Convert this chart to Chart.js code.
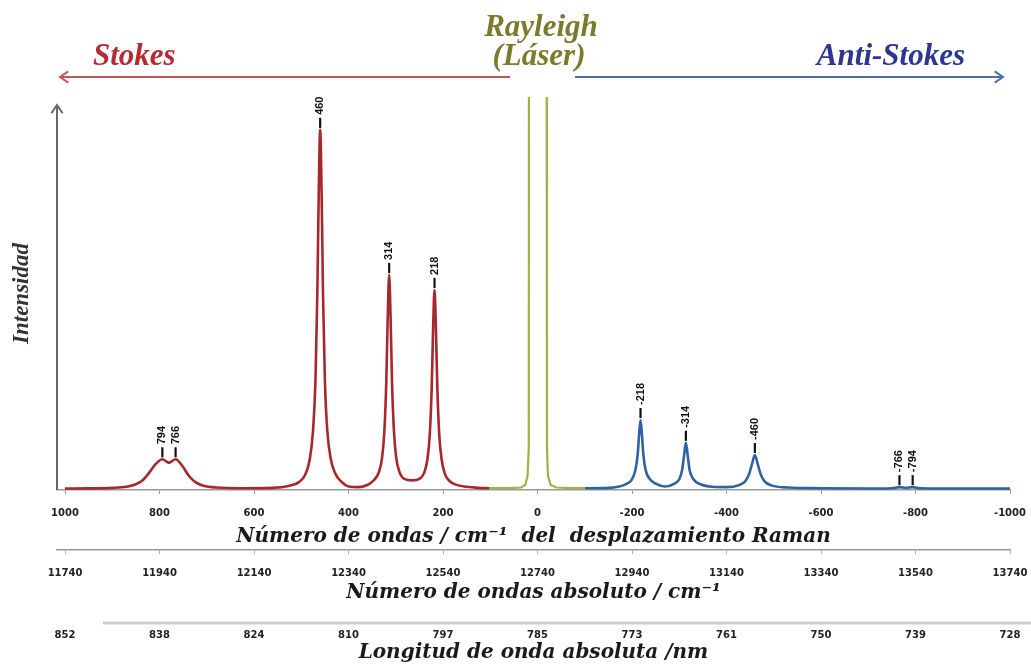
<!DOCTYPE html>
<html>
<head>
<meta charset="utf-8">
<script src="https://cdn.jsdelivr.net/npm/chart.js@4.4.1/dist/chart.umd.min.js"></script>
<style>
  html, body { margin: 0; padding: 0; background: #fff; }
  #wrap { width: 1031px; height: 665px; position: relative; }
</style>
</head>
<body>
<div id="wrap"><canvas id="c"></canvas></div>
<script>
// Raman shift (cm-1) and relative intensity of the Stokes branch
const stokesShift = [1000, 950, 900, 870, 850, 835, 822, 808, 794, 780, 766, 752, 738, 724, 705, 680, 620, 560,
  525, 505, 492, 482, 475, 470, 466, 463, 460, 457, 454, 450, 445, 438, 428, 415, 400, 380, 360,
  346, 336, 329, 324, 320, 317, 314, 311, 308, 304, 299, 292, 282, 265, 250,
  240, 233, 228, 224, 221, 218, 215, 212, 208, 203, 196, 186, 173, 150, 125, 102];
const stokesInt = [0.4, 0.45, 0.6, 0.9, 1.6, 2.8, 4.8, 7.3, 8.6, 7.6, 8.6, 6.8, 4.0, 2.2, 1.1, 0.7, 0.5, 0.6,
  1.2, 2.2, 4.2, 8.6, 16.8, 30.5, 55, 83.5, 100.8, 83.5, 55, 30.5, 16.8, 9.0, 4.6, 2.3, 1.0, 0.8, 1.4,
  2.8, 4.9, 9.0, 16.8, 30.5, 48.5, 60.2, 48.5, 30.5, 16.8, 9.0, 5.0, 3.1, 2.7, 3.1,
  4.8, 8.6, 15.6, 28.4, 45, 56, 45, 28.4, 15.6, 8.6, 4.5, 2.5, 1.5, 0.9, 0.6, 0.5];

// Rayleigh (laser) line, far off scale at its centre
const laserShift = [102, 60, 35, 26, 21, 18.5, 17, 0, -18, -20, -22, -28, -40, -70, -100];
const laserInt = [0.5, 0.5, 0.7, 1.4, 4, 12, 400, 4000, 400, 12, 4, 1.4, 0.7, 0.5, 0.5];

// Anti-Stokes branch
const antiShift = [-100, -150, -185, -200, -207, -212, -215, -218, -221, -224, -229, -238, -250, -270,
  -290, -300, -306, -310, -314, -318, -322, -330, -345, -370, -400,
  -425, -440, -448, -454, -460, -466, -472, -480, -495, -530, -600, -700, -750, -766, -780, -794, -810, -900, -1000];
const antiInt = [0.5, 0.6, 1.5, 3.0, 5.5, 10, 15.5, 19.6, 15.5, 10, 5.5, 3.0, 1.8, 1.0,
  1.8, 3.0, 5.5, 9.5, 13.2, 9.5, 5.5, 3.0, 1.6, 0.9, 0.8,
  1.3, 2.5, 4.5, 7.3, 9.8, 7.3, 4.5, 2.5, 1.3, 0.7, 0.5, 0.4, 0.5, 0.8, 0.6, 0.8, 0.5, 0.4, 0.4];

// Labelled bands
const peakShift = [794, 766, 460, 314, 218, -218, -314, -460, -766, -794];
const peakInt = [8.6, 8.6, 100.8, 60.2, 56, 19.6, 13.2, 9.8, 0.8, 0.8];
const peakText = ['794', '766', '460', '314', '218', '-218', '-314', '-460', '-766', '-794'];

// Axis ticks: Raman shift, absolute wavenumber, absolute wavelength
const tickShift = [1000, 800, 600, 400, 200, 0, -200, -400, -600, -800, -1000];
const absLabels = ['11740', '11940', '12140', '12340', '12540', '12740', '12940', '13140', '13340', '13540', '13740'];
const nmLabels = ['852', '838', '824', '810', '797', '785', '773', '761', '750', '739', '728'];

const toPoints = (xs, ys) => xs.map((v, i) => ({ x: v, y: ys[i] }));

const tickFont = { family: 'DejaVu Sans', size: 10, weight: 'bold' };
const titleFont = { family: 'DejaVu Serif', size: 20, weight: 'bold', style: 'italic' };
const setTicks = scale => { scale.ticks = tickShift.map(v => ({ value: v })); };
// keep the plot edges fixed: no extra room for the outer tick labels
const fitX = h => s => { s.height = h; s.paddingLeft = 0; s.paddingRight = 0; };

function arrowHead(ctx, x, y, dir, size) {
  // open chevron; dir is the pointing direction in radians
  ctx.beginPath();
  ctx.moveTo(x - size * Math.cos(dir - 0.6), y - size * Math.sin(dir - 0.6));
  ctx.lineTo(x, y);
  ctx.lineTo(x - size * Math.cos(dir + 0.6), y - size * Math.sin(dir + 0.6));
  ctx.stroke();
}

const decor = {
  id: 'decor',
  afterDraw(chart) {
    const { ctx, chartArea, scales } = chart;
    const xs = scales.x, ys = scales.y;
    ctx.save();

    // intensity arrow
    ctx.strokeStyle = '#666';
    ctx.lineWidth = 2;
    ctx.beginPath();
    ctx.moveTo(chartArea.left, chartArea.bottom);
    ctx.lineTo(chartArea.left, 105);
    ctx.stroke();
    arrowHead(ctx, chartArea.left, 105, -Math.PI / 2, 10);

    // branch arrows
    ctx.lineWidth = 2;
    ctx.strokeStyle = '#c4565a';
    ctx.beginPath(); ctx.moveTo(510, 77); ctx.lineTo(60, 77); ctx.stroke();
    arrowHead(ctx, 60, 77, Math.PI, 10);
    ctx.strokeStyle = '#4c6ea6';
    ctx.beginPath(); ctx.moveTo(575, 77); ctx.lineTo(1003, 77); ctx.stroke();
    arrowHead(ctx, 1003, 77, 0, 10);

    // branch names
    ctx.font = 'italic bold 31px "Liberation Serif"';
    ctx.textBaseline = 'alphabetic';
    ctx.textAlign = 'left';
    ctx.fillStyle = '#b52a33';
    ctx.fillText('Stokes', 93, 65);
    ctx.fillStyle = '#2c3690';
    ctx.textAlign = 'right';
    ctx.fillText('Anti-Stokes', 965, 65);
    ctx.fillStyle = '#7a7b2c';
    ctx.textAlign = 'center';
    ctx.fillText('Rayleigh', 541, 36);
    ctx.fillText('(Láser)', 539, 65);

    // separator of the wavelength axis
    const nm = scales.xNm;
    ctx.strokeStyle = '#cfcfcf';
    ctx.lineWidth = 3;
    ctx.beginPath(); ctx.moveTo(103, nm.top); ctx.lineTo(chart.width, nm.top); ctx.stroke();

    // band labels
    ctx.fillStyle = '#111';
    ctx.strokeStyle = '#111';
    ctx.font = 'bold 11px "Liberation Sans"';
    ctx.textAlign = 'left';
    ctx.textBaseline = 'middle';
    peakShift.forEach((v, i) => {
      const px = xs.getPixelForValue(v);
      const py = ys.getPixelForValue(peakInt[i]);
      ctx.lineWidth = 2.2;
      ctx.beginPath(); ctx.moveTo(px, py - 2); ctx.lineTo(px, py - 12); ctx.stroke();
      ctx.save();
      ctx.translate(px, py - 15);
      ctx.rotate(-Math.PI / 2);
      ctx.fillText(peakText[i], 0, 0);
      ctx.restore();
    });
    ctx.restore();
  }
};

const lineStyle = (color, width) => ({
  borderColor: color, borderWidth: width, pointRadius: 0, fill: false
});

new Chart(document.getElementById('c'), {
  type: 'line',
  data: {
    datasets: [
      Object.assign({ data: toPoints(stokesShift, stokesInt), cubicInterpolationMode: 'monotone' }, lineStyle('#a8272c', 2.6)),
      Object.assign({ data: toPoints(laserShift, laserInt), tension: 0 }, lineStyle('#9fb24a', 2.2)),
      Object.assign({ data: toPoints(antiShift, antiInt), cubicInterpolationMode: 'monotone' }, lineStyle('#2f62a3', 2.6))
    ]
  },
  options: {
    responsive: true,
    maintainAspectRatio: false,
    animation: false,
    layout: { padding: { top: 97, right: 21, bottom: 0, left: 0 } },
    plugins: { legend: { display: false }, tooltip: { enabled: false } },
    scales: {
      y: {
        min: 0, max: 110,
        grid: { display: false },
        border: { display: false },
        ticks: { display: false },
        title: { display: true, text: 'Intensidad', color: '#333',
          font: { family: 'Liberation Serif', size: 23, weight: 'bold', style: 'italic' },
          padding: { top: 8, bottom: 0 } },
        afterFit: s => { s.width = 57; s.paddingTop = 0; s.paddingBottom = 0; }
      },
      x: {
        type: 'linear', position: 'bottom', min: -1000, max: 1017, reverse: true,
        afterBuildTicks: setTicks,
        grid: { display: true, drawOnChartArea: false, drawTicks: true, tickLength: 4, color: '#999' },
        border: { display: true, color: '#9a9a9a', width: 1.5 },
        ticks: { autoSkip: false, maxRotation: 0, padding: 13, color: '#222', font: tickFont,
          callback: (v, i) => String(tickShift[i]) },
        title: { display: true, text: 'Número de ondas / cm⁻¹  del  desplazamiento Raman', color: '#1a1a1a',
          font: titleFont, padding: { top: 0, bottom: 1 } },
        afterFit: fitX(60)
      },
      xAbs: {
        type: 'linear', position: 'bottom', min: -1000, max: 1017, reverse: true,
        afterBuildTicks: setTicks,
        grid: { display: true, drawOnChartArea: false, drawTicks: true, tickLength: 4, color: '#aaa' },
        border: { display: true, color: '#9a9a9a', width: 1.5 },
        ticks: { autoSkip: false, maxRotation: 0, padding: 13, color: '#222', font: tickFont,
          callback: (v, i) => absLabels[i] },
        title: { display: true, text: 'Número de ondas absoluto / cm⁻¹', color: '#1a1a1a',
          font: titleFont, padding: { top: 0, bottom: 18 } },
        afterFit: fitX(73)
      },
      xNm: {
        type: 'linear', position: 'bottom', min: -1000, max: 1017, reverse: true,
        afterBuildTicks: setTicks,
        grid: { display: false, drawTicks: false },
        border: { display: false },
        ticks: { autoSkip: false, maxRotation: 0, padding: 6, color: '#222', font: tickFont,
          callback: (v, i) => nmLabels[i] },
        title: { display: true, text: 'Longitud de onda absoluta /nm', color: '#1a1a1a',
          font: titleFont, padding: { top: 0, bottom: 0 } },
        afterFit: fitX(42)
      }
    }
  },
  plugins: [decor]
});
</script>
</body>
</html>
